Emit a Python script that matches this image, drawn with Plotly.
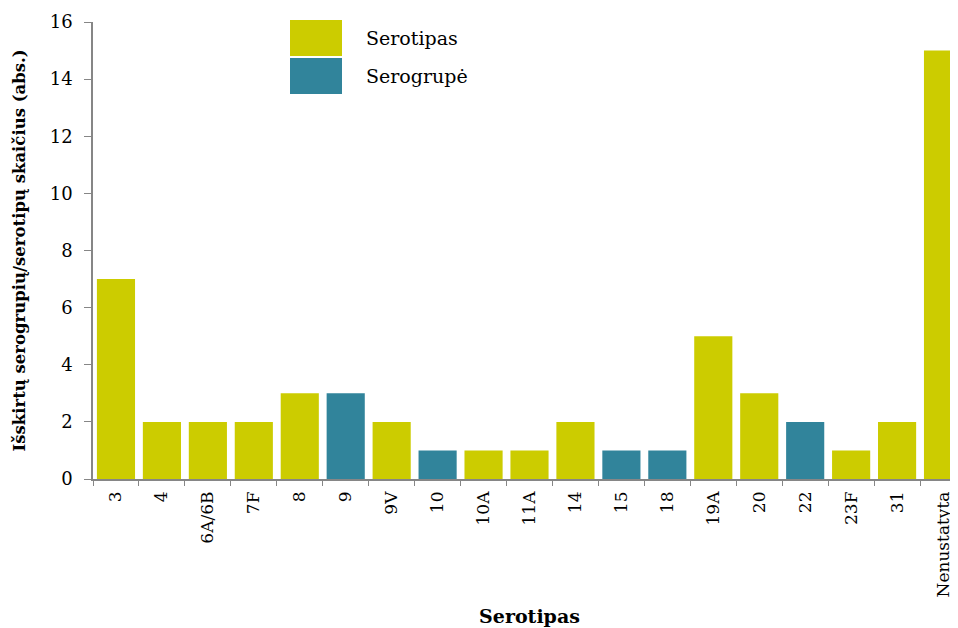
import plotly.graph_objects as go

categories = ["3", "4", "6A/6B", "7F", "8", "9", "9V", "10", "10A", "11A", "14",
              "15", "18", "19A", "20", "22", "23F", "31", "Nenustatyta"]
serotipas = [7, 2, 2, 2, 3, None, 2, None, 1, 1, 2, None, None, 5, 3, None, 1, 2, 15]
serogrupe = [None, None, None, None, None, 3, None, 1, None, None, None, 1, 1, None, None, 2, None, None, None]
yticks = [0, 2, 4, 6, 8, 10, 12, 14, 16]

YEL = "#CCCC00"
TEAL = "#31849B"
FONT = "DejaVu Serif"

fig = go.Figure()
fig.add_trace(go.Bar(x=categories, y=serotipas, name="Serotipas", marker_color=YEL,
                     marker_line_width=0, showlegend=False))
fig.add_trace(go.Bar(x=categories, y=serogrupe, name="Serogrupė", marker_color=TEAL,
                     marker_line_width=0, showlegend=False))

# plot area in figure px: x 85..958, y 14..471
PL, PW, PB, PH = 85, 873, 471, 457
for i, (nm, col) in enumerate([("Serotipas", YEL), ("Serogrupė", TEAL)]):
    top = 12 + 38 * i
    bot = 48 + 38 * i
    fig.add_shape(type="rect", xref="paper", yref="paper", layer="above",
                  x0=(282 - PL) / PW, x1=(334 - PL) / PW,
                  y0=(PB - bot) / PH, y1=(PB - top) / PH,
                  line_width=0, fillcolor=col)
    fig.add_annotation(xref="paper", yref="paper", x=(356 - PL) / PW,
                       y=(PB - (top + bot) / 2) / PH, text=nm, showarrow=False,
                       xanchor="left", yanchor="middle",
                       font=dict(family=FONT, size=19, color="#000"))

fig.update_layout(
    width=958, height=628,
    margin=dict(l=85, r=0, t=14, b=157),
    paper_bgcolor="white", plot_bgcolor="white",
    barmode="overlay", bargap=0.17,
    font=dict(family=FONT, size=15, color="#000"),
    xaxis=dict(
        type="category", tickangle=-90, tickson="boundaries",
        ticks="outside", ticklen=5, tickcolor="#868686",
        showline=True, linecolor="#868686", linewidth=1.5,
        showgrid=False, ticklabelstandoff=4,
        tickfont=dict(family=FONT, size=17),
        title=dict(text="<b>Serotipas</b>", font=dict(family=FONT, size=19), standoff=13),
    ),
    yaxis=dict(
        range=[0, 16], tickvals=yticks, ticks="outside", ticklen=7, tickcolor="#868686",
        showline=True, linecolor="#868686", linewidth=1.5, showgrid=False, zeroline=False,
        ticklabelstandoff=8,
        tickfont=dict(family=FONT, size=18),
        title=dict(text="<b>Išskirtų serogrupių/serotipų skaičius (abs.)</b>",
                   font=dict(family=FONT, size=16.5), standoff=20),
    ),
)

fig.write_html("out.html")
